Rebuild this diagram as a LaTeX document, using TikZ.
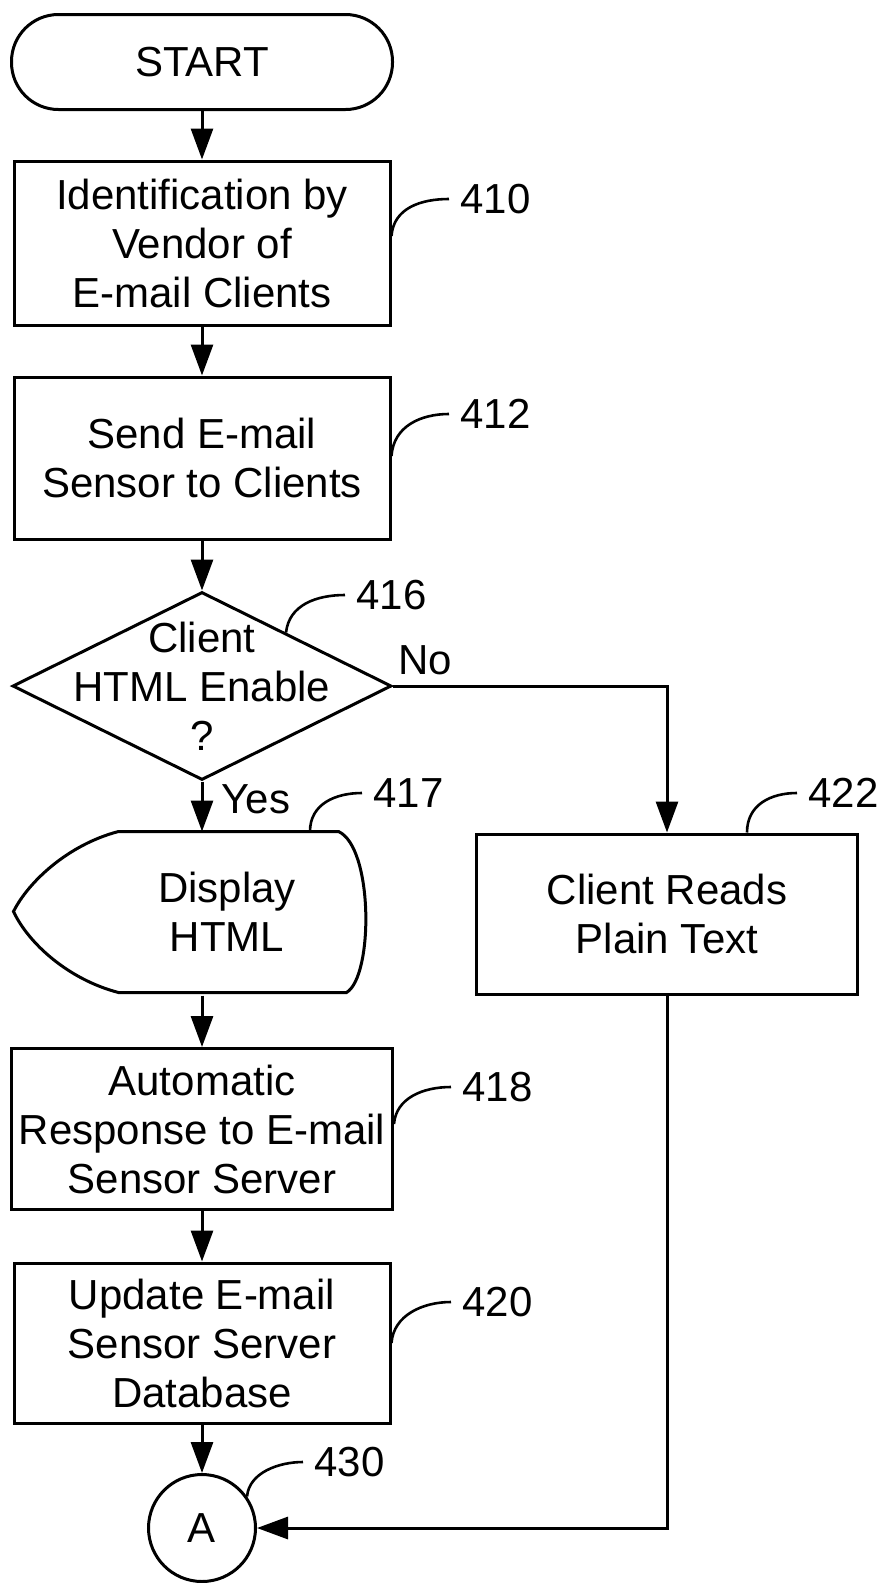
\documentclass[tikz,border=0pt]{standalone}
\usepackage{fontspec}
\setmainfont{Liberation Sans}
\usetikzlibrary{arrows.meta,shapes.geometric,calc}

\begin{document}
\begin{tikzpicture}[x=1pt,y=-1pt,
  line width=3pt,
  every node/.style={font=\fontsize{42}{49}\selectfont},
  term/.style={draw, rectangle, rounded corners=47pt, inner sep=0pt},
  proc/.style={draw, rectangle, inner sep=0pt, align=center},
  dec/.style={draw, diamond, inner sep=0pt},
  conn/.style={draw, circle, inner sep=0pt},
  txt/.style={align=center, inner sep=0pt},
  ref/.style={anchor=west, inner sep=0pt},
  arr/.style={-{Triangle[length=31pt,width=22pt]}},
  lead/.style={line width=2.6pt}]

\useasboundingbox (0,0) rectangle (881,1583);

% main column
\node[term, minimum width=381pt, minimum height=95pt] (start) at (202,62) {START};
\node[proc, minimum width=376pt, minimum height=164pt] (b410) at (202,243)
  {Identification by\\Vendor of\\E-mail Clients};
\node[proc, minimum width=376pt, minimum height=162pt] (b412) at (202,458)
  {Send E-mail\\Sensor to Clients};
\node[dec, minimum width=379pt, minimum height=188pt] (d416) at (202,686) {};
\node[txt] (d416t) at (d416.center) {Client\\HTML Enable\\?};

% display symbol
\node[minimum width=352pt, minimum height=161pt, inner sep=0pt] (disp) at (191,913.5) {};
\draw[shift={(disp.north west)}]
  (105,0) -- (325,0) .. controls (360,16) and (360,145) .. (333,161)
  -- (105,161) .. controls (55,148) and (15,112) .. (0,80)
  .. controls (15,50) and (55,13) .. (105,0) -- cycle;
\node[txt] (dispt) at (227,912) {Display\\HTML};

\node[proc, minimum width=381pt, minimum height=160pt] (b422) at (667,914)
  {Client Reads\\Plain Text};
\node[proc, minimum width=381pt, minimum height=161pt] (b418) at (202,1129)
  {Automatic\\Response to E-mail\\Sensor Server};
\node[proc, minimum width=376pt, minimum height=160pt] (b420) at (202,1343)
  {Update E-mail\\Sensor Server\\Database};
\node[conn, minimum size=107pt] (A) at (202,1528) {A};

% flow
\draw[arr] (start) -- (b410);
\draw[arr] (b410) -- (b412);
\draw[arr] (b412) -- (d416);
\draw[arr] (d416.south) -- (d416.south |- disp.north);
\draw[arr] (b418.north |- disp.south) -- (b418.north);
\draw[arr] (b418) -- (b420);
\draw[arr] (b420) -- (A);
\draw[arr] (d416.east) -| (b422.north);
\draw[arr] (b422.south) |- (A.east);

\node[anchor=base west, inner sep=0pt] (no) at (397,674) {No};
\node[anchor=base west, inner sep=0pt] (yes) at (220,813) {Yes};

% reference numerals
\node[ref] (l410) at (459,199) {410};
\node[ref] (l412) at (459,414) {412};
\node[ref] (l416) at (355,595) {416};
\node[ref] (l417) at (372,793) {417};
\node[ref] (l422) at (807,793) {422};
\node[ref] (l418) at (461,1087) {418};
\node[ref] (l420) at (461,1302) {420};
\node[ref] (l430) at (313,1462) {430};

\draw[lead] ([yshift=7pt]b410.east) .. controls +(2,-28) and +(-28,0) .. ([xshift=-10pt]l410.west);
\draw[lead] ([yshift=2pt]b412.east) .. controls +(2,-30) and +(-28,0) .. ([xshift=-10pt]l412.west);
\draw[lead] ($(d416.north)!0.44!(d416.east)$) .. controls +(3,-28) and +(-28,0) .. ([xshift=-10pt]l416.west);
\draw[lead] ([xshift=119pt]disp.north) .. controls +(0,-28) and +(-26,0) .. ([xshift=-10pt]l417.west);
\draw[lead] ([xshift=80pt]b422.north) .. controls +(0,-28) and +(-26,0) .. ([xshift=-10pt]l422.west);
\draw[lead] ([yshift=5pt]b418.east) .. controls +(2,-26) and +(-28,0) .. ([xshift=-10pt]l418.west);
\draw[lead] (b420.east) .. controls +(2,-28) and +(-28,0) .. ([xshift=-10pt]l420.west);
\draw[lead] (A.35) .. controls +(2,-24) and +(-24,0) .. ([xshift=-10pt]l430.west);
\end{tikzpicture}
\end{document}
